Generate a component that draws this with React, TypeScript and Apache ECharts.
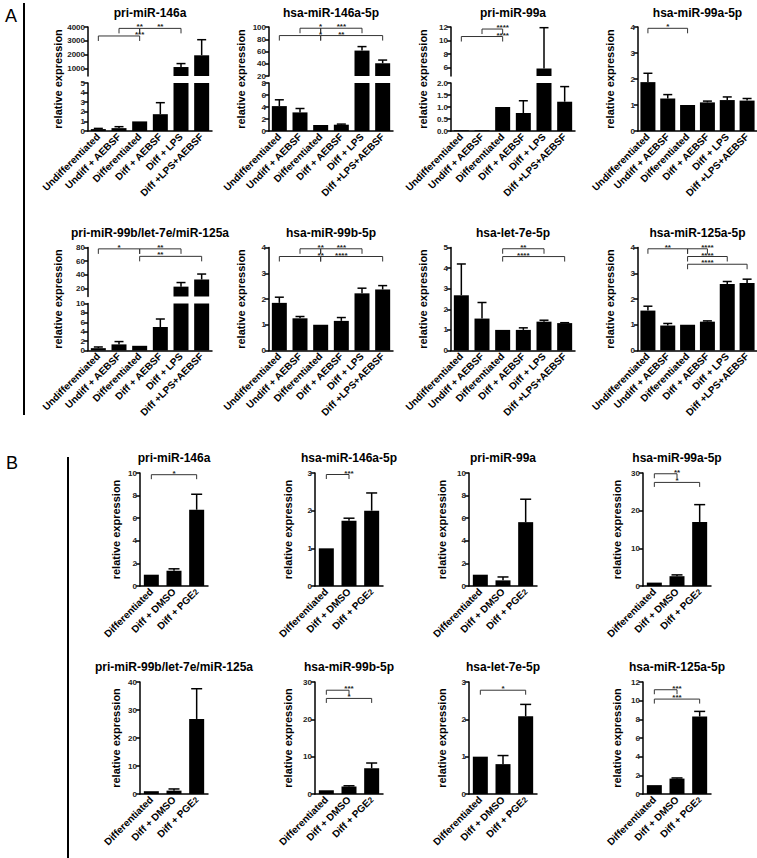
import React, { useEffect, useRef } from 'react';
import * as echarts from 'echarts';

const FONT = '"Liberation Sans", Arial, Helvetica, sans-serif';

// ---------- categories ----------
const catsA = ['Undifferentiated', 'Undiff + AEBSF', 'Differentiated', 'Diff + AEBSF', 'Diff + LPS', 'Diff +LPS+AEBSF'];
const catsB = ['Differentiated', 'Diff + DMSO', 'Diff + PGE\u2082'];

// ---------- titles ----------
const titlesA = ['pri-miR-146a', 'hsa-miR-146a-5p', 'pri-miR-99a', 'hsa-miR-99a-5p', 'pri-miR-99b/let-7e/miR-125a', 'hsa-miR-99b-5p', 'hsa-let-7e-5p', 'hsa-miR-125a-5p'];
const titlesB = ['pri-miR-146a', 'hsa-miR-146a-5p', 'pri-miR-99a', 'hsa-miR-99a-5p', 'pri-miR-99b/let-7e/miR-125a', 'hsa-miR-99b-5p', 'hsa-let-7e-5p', 'hsa-miR-125a-5p'];
const yName = 'relative expression';

// ---------- panel A: mean and top of error bar ----------
const a1Mean = [0.2, 0.3, 1.0, 1.75, 1100, 1950];
const a1Err = [0.27, 0.45, null, 2.95, 1350, 3080];
const a2Mean = [4.15, 3.1, 1.0, 1.05, 61.5, 40.8];
const a2Err = [5.2, 3.75, null, 1.15, 68, 46];
const a3Mean = [0.03, 0.03, 1.0, 0.75, 5.9, 1.22];
const a3Err = [null, null, null, 1.26, 11.9, 1.85];
const a4Mean = [1.88, 1.25, 1.0, 1.1, 1.19, 1.17];
const a4Err = [2.22, 1.4, null, 1.15, 1.31, 1.25];
const a5Mean = [0.5, 1.3, 1.0, 5.0, 22.5, 33];
const a5Err = [0.75, 1.9, null, 6.7, 28.5, 41];
const a6Mean = [1.85, 1.25, 1.0, 1.15, 2.22, 2.37];
const a6Err = [2.07, 1.32, null, 1.28, 2.42, 2.52];
const a7Mean = [2.68, 1.55, 1.0, 1.0, 1.4, 1.33];
const a7Err = [4.2, 2.33, null, 1.1, 1.47, 1.35];
const a8Mean = [1.55, 0.97, 1.0, 1.12, 2.58, 2.62];
const a8Err = [1.72, 1.05, null, 1.15, 2.68, 2.77];

// ---------- panel B ----------
const b1Mean = [1.0, 1.35, 6.75];
const b1Err = [null, 1.52, 8.12];
const b2Mean = [1.0, 1.73, 2.0];
const b2Err = [null, 1.8, 2.47];
const b3Mean = [1.0, 0.5, 5.65];
const b3Err = [null, 0.8, 7.68];
const b4Mean = [0.9, 2.6, 17.0];
const b4Err = [null, 2.95, 21.6];
const b5Mean = [1.0, 1.2, 26.8];
const b5Err = [null, 1.8, 37.6];
const b6Mean = [1.0, 2.0, 6.9];
const b6Err = [null, 2.2, 8.3];
const b7Mean = [1.0, 0.8, 2.08];
const b7Err = [null, 1.03, 2.4];
const b8Mean = [0.95, 1.65, 8.3];
const b8Err = [null, 1.72, 8.85];

// ---------- significance brackets: [from, to, level, label, label position] ----------
type Br = [number, number, number, string, number];
const a1Br: Br[] = [[1, 2, 3900, '**', 1.5], [0, 2, 3350, '***', 1.5], [2, 4, 3900, '**', 3]];
const a2Br: Br[] = [[1, 2, 98, '*', 1.5], [2, 4, 98, '***', 3], [0, 2, 86, '*', 1.5], [2, 5, 86, '**', 3]];
const a3Br: Br[] = [[1, 2, 11.7, '****', 1.5], [0, 2, 10.6, '****', 1.5]];
const a4Br: Br[] = [[0, 2, 3.95, '*', 1]];
const a5Br: Br[] = [[0, 2, 78, '*', 1], [2, 4, 78, '**', 3], [2, 5, 67, '**', 3]];
const a6Br: Br[] = [[1, 2, 3.95, '**', 1.5], [2, 4, 3.95, '***', 3], [0, 2, 3.65, '**', 1.5], [2, 5, 3.65, '****', 2.6]];
const a7Br: Br[] = [[2, 4, 4.94, '**', 3], [2, 5, 4.56, '****', 3]];
const a8Br: Br[] = [[0, 2, 3.95, '**', 1], [2, 3, 3.95, '****', 2.5], [2, 4, 3.65, '****', 2.5], [2, 5, 3.35, '****', 2.5]];
const b1Br: Br[] = [[0, 2, 9.85, '*', 1]];
const b2Br: Br[] = [[0, 1, 2.96, '***', 0.5]];
const b3Br: Br[] = [];
const b4Br: Br[] = [[0, 1, 29.8, '**', 0.5], [0, 2, 27.5, '*', 0.5]];
const b5Br: Br[] = [];
const b6Br: Br[] = [[0, 1, 27.8, '***', 0.5], [0, 2, 25.6, '*', 0.5]];
const b7Br: Br[] = [[0, 2, 2.78, '*', 1]];
const b8Br: Br[] = [[0, 1, 11.17, '***', 0.5], [0, 2, 10.17, '***', 0.5]];

// ---------- y-axis ranges [min, max, tick step]; two entries = broken axis (upper first) ----------
const a1Axis = [[450, 4000, 1000], [0, 5, 1]];
const a2Axis = [[20, 100, 20], [0, 8, 2]];
const a3Axis = [[4.8, 12, 2], [0, 2, 0.5]];
const a4Axis = [[0, 4, 1]];
const a5Axis = [[8, 80, 20], [0, 10, 2]];
const a6Axis = [[0, 4, 1]];
const a7Axis = [[0, 5, 1]];
const a8Axis = [[0, 4, 1]];
const b1Axis = [[0, 10, 2]];
const b2Axis = [[0, 3, 1]];
const b3Axis = [[0, 10, 2]];
const b4Axis = [[0, 30, 10]];
const b5Axis = [[0, 40, 10]];
const b6Axis = [[0, 30, 10]];
const b7Axis = [[0, 3, 1]];
const b8Axis = [[0, 12, 2]];

// ---------- layout ----------
const A_X = [88, 269, 451, 638];
const A_W = [124, 124, 124, 119];
const A_NAME = [30, 28, 28, 28];
const A_ROWS = [{ top: 27, bottom: 131, titleY: 13 }, { top: 247.5, bottom: 350.5, titleY: 233 }];
const B_X = [140, 315, 469, 643];
const B_W = [68, 68, 68, 68];
const B_NAME = [24, 27, 27, 26];
const B_ROWS = [{ top: 473, bottom: 586, titleY: 458 }, { top: 682, bottom: 794, titleY: 667 }];

type Spec = { title: string; cats: string[]; mean: number[]; err: (number | null)[]; br: Br[]; axis: number[][]; panel: 'A' | 'B'; idx: number };

const specs: Spec[] = [
  { title: titlesA[0], cats: catsA, mean: a1Mean, err: a1Err, br: a1Br, axis: a1Axis, panel: 'A', idx: 0 },
  { title: titlesA[1], cats: catsA, mean: a2Mean, err: a2Err, br: a2Br, axis: a2Axis, panel: 'A', idx: 1 },
  { title: titlesA[2], cats: catsA, mean: a3Mean, err: a3Err, br: a3Br, axis: a3Axis, panel: 'A', idx: 2 },
  { title: titlesA[3], cats: catsA, mean: a4Mean, err: a4Err, br: a4Br, axis: a4Axis, panel: 'A', idx: 3 },
  { title: titlesA[4], cats: catsA, mean: a5Mean, err: a5Err, br: a5Br, axis: a5Axis, panel: 'A', idx: 4 },
  { title: titlesA[5], cats: catsA, mean: a6Mean, err: a6Err, br: a6Br, axis: a6Axis, panel: 'A', idx: 5 },
  { title: titlesA[6], cats: catsA, mean: a7Mean, err: a7Err, br: a7Br, axis: a7Axis, panel: 'A', idx: 6 },
  { title: titlesA[7], cats: catsA, mean: a8Mean, err: a8Err, br: a8Br, axis: a8Axis, panel: 'A', idx: 7 },
  { title: titlesB[0], cats: catsB, mean: b1Mean, err: b1Err, br: b1Br, axis: b1Axis, panel: 'B', idx: 0 },
  { title: titlesB[1], cats: catsB, mean: b2Mean, err: b2Err, br: b2Br, axis: b2Axis, panel: 'B', idx: 1 },
  { title: titlesB[2], cats: catsB, mean: b3Mean, err: b3Err, br: b3Br, axis: b3Axis, panel: 'B', idx: 2 },
  { title: titlesB[3], cats: catsB, mean: b4Mean, err: b4Err, br: b4Br, axis: b4Axis, panel: 'B', idx: 3 },
  { title: titlesB[4], cats: catsB, mean: b5Mean, err: b5Err, br: b5Br, axis: b5Axis, panel: 'B', idx: 4 },
  { title: titlesB[5], cats: catsB, mean: b6Mean, err: b6Err, br: b6Br, axis: b6Axis, panel: 'B', idx: 5 },
  { title: titlesB[6], cats: catsB, mean: b7Mean, err: b7Err, br: b7Br, axis: b7Axis, panel: 'B', idx: 6 },
  { title: titlesB[7], cats: catsB, mean: b8Mean, err: b8Err, br: b8Br, axis: b8Axis, panel: 'B', idx: 7 },
];

function buildOption() {
  const grid: any[] = [];
  const xAxis: any[] = [];
  const yAxis: any[] = [];
  const series: any[] = [];
  const graphic: any[] = [];

  specs.forEach((sp) => {
    const col = sp.idx % 4;
    const row = Math.floor(sp.idx / 4);
    const isA = sp.panel === 'A';
    const x = isA ? A_X[col] : B_X[col];
    const w = isA ? A_W[col] : B_W[col];
    const R = isA ? A_ROWS[row] : B_ROWS[row];
    const nameGap = isA ? A_NAME[col] : B_NAME[col];
    const barW = 15;
    const cap = isA ? 4.5 : 5.5;
    const broken = sp.axis.length === 2;
    const rects = broken
      ? [{ top: R.top, height: 49 }, { top: R.top + 56, height: R.bottom - R.top - 56 }]
      : [{ top: R.top, height: R.bottom - R.top }];

    sp.axis.forEach((ax, k) => {
      const [mn, mx, step] = ax;
      const gi = grid.length;
      const isBottom = k === sp.axis.length - 1;
      const hideMin = Math.abs(mn / step - Math.round(mn / step)) > 1e-6;
      const dec = step < 1 ? 1 : 0;
      grid.push({ left: x, top: rects[k].top, width: w, height: rects[k].height, outerBoundsMode: 'none', containLabel: false });
      xAxis.push({
        type: 'category', gridIndex: gi, data: sp.cats, show: isBottom,
        axisLine: { show: true, onZero: false, lineStyle: { color: '#000', width: 1.5 } },
        axisTick: { show: false },
        axisLabel: {
          interval: 0, rotate: 45, margin: 4, fontSize: 10, fontWeight: 'bold', color: '#000', fontFamily: FONT,
          formatter: (v: string) => (v.indexOf('\u2082') >= 0 ? v.replace('\u2082', '{sub|2}') : v),
          rich: {
            sub: { fontSize: 8, fontWeight: 'bold', color: '#000', fontFamily: FONT, verticalAlign: 'bottom', lineHeight: 8 },
          },
        },
      });
      yAxis.push({
        type: 'value', gridIndex: gi, min: mn, max: mx, minInterval: step, maxInterval: step,
        splitLine: { show: false },
        axisLine: { show: true, lineStyle: { color: '#000', width: 1.5 } },
        axisTick: { show: true, length: 4, lineStyle: { color: '#000', width: 1.5 } },
        axisLabel: {
          fontSize: 8, fontWeight: 'bold', color: '#222', margin: 3, fontFamily: FONT,
          showMinLabel: !hideMin, showMaxLabel: true,
          formatter: (v: number) => v.toFixed(dec),
        },
      });
      series.push({
        type: 'bar', xAxisIndex: gi, yAxisIndex: gi, data: sp.mean, barWidth: barW,
        itemStyle: { color: '#000' }, silent: true, clip: true,
      });
      const errData = sp.mean.map((m, i) => [i, m, sp.err[i]]).filter((d) => d[2] != null);
      series.push({
        type: 'custom', xAxisIndex: gi, yAxisIndex: gi, data: errData, silent: true, z: 5,
        renderItem: (_p: any, api: any) => {
          const i = api.value(0);
          const m = api.value(1);
          const t = api.value(2);
          const lo = Math.max(m, mn);
          const hi = Math.min(t, mx);
          const children: any[] = [];
          if (hi > lo) {
            const p1 = api.coord([i, lo]);
            const p2 = api.coord([i, hi]);
            children.push({ type: 'line', shape: { x1: p1[0], y1: p1[1], x2: p2[0], y2: p2[1] }, style: { stroke: '#000', lineWidth: 1.5 } });
            if (t <= mx) {
              children.push({ type: 'line', shape: { x1: p2[0] - cap, y1: p2[1], x2: p2[0] + cap, y2: p2[1] }, style: { stroke: '#000', lineWidth: 1.5 } });
            }
          }
          return { type: 'group', children };
        },
      });
      if (k === 0 && sp.br.length) {
        const br = sp.br;
        series.push({
          type: 'custom', xAxisIndex: gi, yAxisIndex: gi, data: br.map((b) => [b[0], b[2]]), silent: true, z: 6,
          renderItem: (p: any, api: any) => {
            const b = br[p.dataIndex];
            const pa = api.coord([b[0], b[2]]);
            const pb = api.coord([b[1], b[2]]);
            const pl = api.coord([b[4], b[2]]);
            const drop = isA ? 5 : 4.5;
            const st = { stroke: '#333', lineWidth: 1 };
            return {
              type: 'group',
              children: [
                { type: 'line', shape: { x1: pa[0], y1: pa[1], x2: pb[0], y2: pb[1] }, style: st },
                { type: 'line', shape: { x1: pa[0], y1: pa[1], x2: pa[0], y2: pa[1] + drop }, style: st },
                { type: 'line', shape: { x1: pb[0], y1: pb[1], x2: pb[0], y2: pb[1] + drop }, style: st },
                {
                  type: 'text', x: pl[0], y: pa[1] + 2.5,
                  style: { text: b[3], fontSize: 8, fontWeight: 'bold', fontFamily: FONT, fill: '#222', align: 'center', verticalAlign: 'bottom' },
                },
              ],
            };
          },
        });
      }
    });

    graphic.push({
      type: 'text', x: x + w / 2, y: R.titleY, silent: true,
      style: { text: sp.title, font: `bold 12px ${FONT}`, fill: '#000', align: 'center', verticalAlign: 'middle' },
    });
    graphic.push({
      type: 'text', x: x - nameGap, y: (R.top + R.bottom) / 2, rotation: Math.PI / 2, silent: true,
      style: { text: yName, font: `bold 11px ${FONT}`, fill: '#000', align: 'center', verticalAlign: 'middle' },
    });
  });

  graphic.push({ type: 'line', shape: { x1: 24, y1: 3, x2: 24, y2: 415 }, style: { stroke: '#000', lineWidth: 2 }, silent: true });
  graphic.push({ type: 'line', shape: { x1: 68, y1: 457, x2: 68, y2: 858 }, style: { stroke: '#000', lineWidth: 2 }, silent: true });
  graphic.push({ type: 'text', x: 11, y: 16, silent: true, style: { text: 'A', font: `18px ${FONT}`, fill: '#000', align: 'center', verticalAlign: 'middle' } });
  graphic.push({ type: 'text', x: 12, y: 463, silent: true, style: { text: 'B', font: `18px ${FONT}`, fill: '#000', align: 'center', verticalAlign: 'middle' } });

  return {
    animation: false,
    backgroundColor: '#fff',
    grid, xAxis, yAxis, series, graphic,
  };
}

export default function App() {
  const ref = useRef<HTMLDivElement>(null);
  useEffect(() => {
    if (!ref.current) return;
    const chart = echarts.init(ref.current, null, { renderer: 'svg' });
    chart.setOption(buildOption() as any);
    return () => chart.dispose();
  }, []);
  return <div ref={ref} style={{ position: 'absolute', left: 0, top: 0, width: 757, height: 858, background: '#fff' }} />;
}
